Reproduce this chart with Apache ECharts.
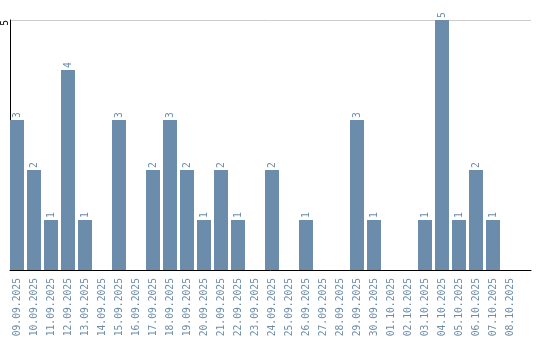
<!DOCTYPE html>
<html><head><meta charset="utf-8">
<script src="https://cdn.jsdelivr.net/npm/echarts@6/dist/echarts.min.js"></script>
<style>html,body{margin:0;padding:0;background:#fff}#c{width:540px;height:340px}</style>
</head><body><div id="c"></div>
<script>
const categories = ["09.09.2025","10.09.2025","11.09.2025","12.09.2025","13.09.2025","14.09.2025","15.09.2025","16.09.2025","17.09.2025","18.09.2025","19.09.2025","20.09.2025","21.09.2025","22.09.2025","23.09.2025","24.09.2025","25.09.2025","26.09.2025","27.09.2025","28.09.2025","29.09.2025","30.09.2025","01.10.2025","02.10.2025","03.10.2025","04.10.2025","05.10.2025","06.10.2025","07.10.2025","08.10.2025"];
const values = [3,2,1,4,1,0,3,0,2,3,2,1,2,1,0,2,0,1,0,0,3,1,0,0,1,5,1,2,1,0];
const yMax = 5;
const barColor = '#6b8cab';
const font = 'DejaVu Sans Mono';
const chart = echarts.init(document.getElementById('c'), null, {renderer:'canvas'});
chart.setOption({
  animation:false,
  grid:[
    {left:8.5,width:510,top:20,bottom:70,outerBoundsMode:'none'},
    {left:10,right:9,top:20,bottom:70,outerBoundsMode:'none'}
  ],
  xAxis:[
    {type:'category',data:categories,gridIndex:0,
      axisLine:{show:false},axisTick:{show:false},
      axisLabel:{rotate:90,interval:0,margin:8,color:barColor,fontSize:9.7,fontFamily:font}},
    {type:'value',gridIndex:1,min:0,max:1,
      axisLine:{show:true,lineStyle:{color:'#000',width:1}},
      axisTick:{show:false},axisLabel:{show:false},splitLine:{show:false}}
  ],
  yAxis:[
    {type:'value',gridIndex:0,min:0,max:yMax,show:false,splitLine:{show:false}},
    {type:'value',gridIndex:1,min:0,max:yMax,interval:5,
      axisLine:{show:true,lineStyle:{color:'#000',width:1}},
      axisTick:{show:false},
      splitLine:{show:true,lineStyle:{color:'#ccc',width:1}},
      axisLabel:{rotate:90,margin:5,align:'right',alignMaxLabel:'right',verticalAlign:'middle',color:'#000',fontSize:9.7,fontFamily:font,
        formatter:v=>v===0?'':String(v)}}
  ],
  series:[{type:'bar',data:values,xAxisIndex:0,yAxisIndex:0,barWidth:14,
    itemStyle:{color:barColor},
    label:{show:true,position:'top',rotate:90,align:'left',verticalAlign:'middle',distance:2,
      color:barColor,fontSize:9.7,fontFamily:font,
      formatter:p=>p.value===0?'':String(p.value)}}]
});
</script></body></html>
